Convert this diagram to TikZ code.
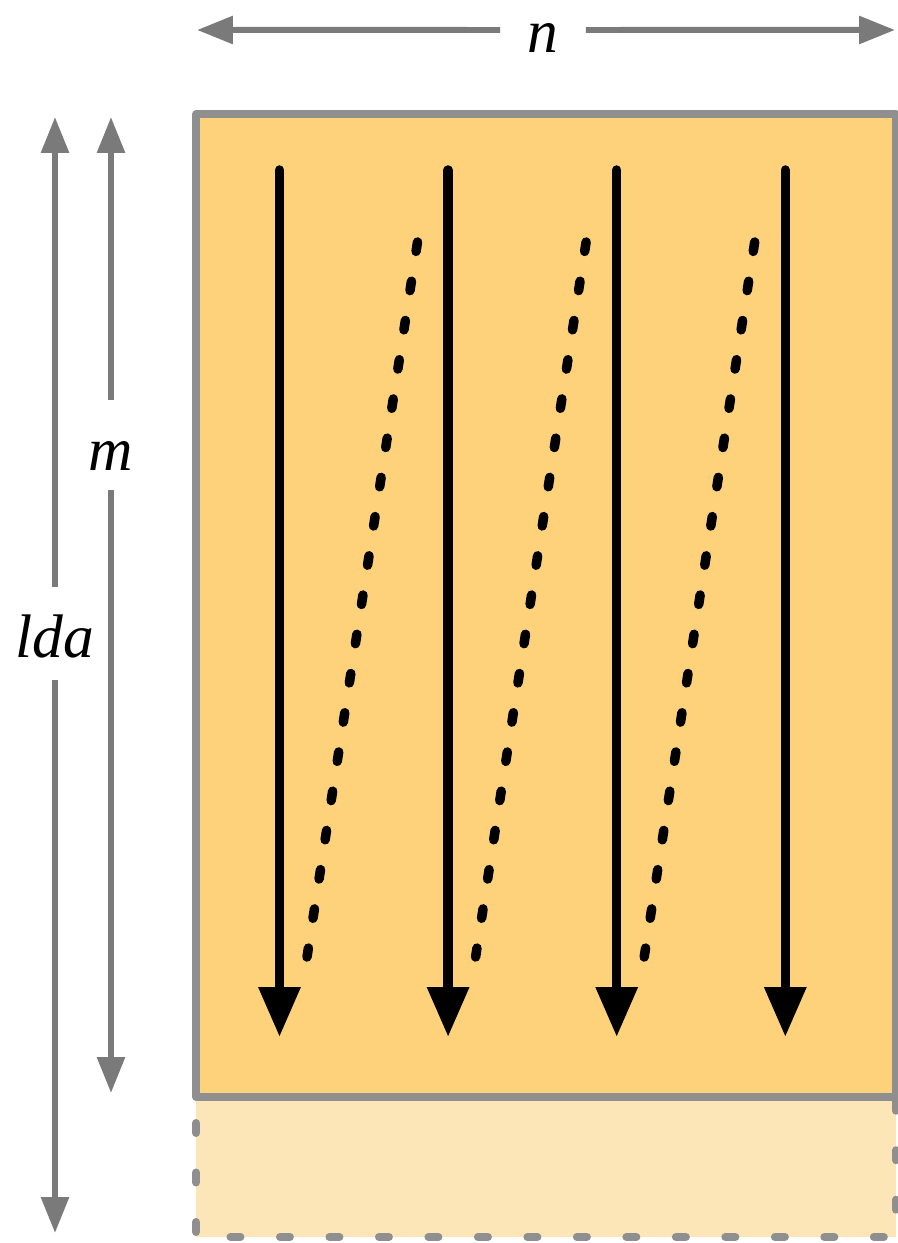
\documentclass[tikz,border=0pt]{standalone}
\usepackage{fontspec}
\setmainfont{Liberation Serif}
\usetikzlibrary{arrows.meta,positioning}
\definecolor{matfill}{HTML}{FDD27A}
\definecolor{padfill}{HTML}{FCE6B8}
\definecolor{edgegray}{HTML}{8F8F8F}
\definecolor{dimgray}{HTML}{7A7A7A}
\tikzset{
  dimarrow/.style={dimgray, -{Triangle[width=0.54cm, length=0.72cm]}, line width=0.12cm},
  dimlabel/.style={font=\fontsize{35}{40}\selectfont\itshape, inner sep=0pt, anchor=base},
  colarrow/.style={black, -{Triangle[width=0.8cm, length=1cm]}, line width=0.19cm, line cap=round},
  colreturn/.style={black, line width=0.19cm, line cap=round, dash pattern=on 0.19cm off 0.604cm},
  matbox/.style={draw=edgegray, fill=matfill, line width=0.16cm, line join=round},
  padline/.style={edgegray, line width=0.16cm, line cap=round, dash pattern=on 0.2cm off 0.79cm, dash phase=0.47cm}
}
\begin{document}
\begin{tikzpicture}[x=0.02cm, y=-0.02cm]
  \useasboundingbox (0,0) rectangle (897,1243);
  % padding rows below the matrix
  \fill[padfill] (196,1097) rectangle (896,1237);
  \draw[padline] (196,1097) -- (196,1237) -- (896,1237) -- (896,1097);
  % stored matrix
  \draw[matbox] (196,114.5) rectangle (896,1097);
  % column-major traversal
  \foreach \k in {0,...,3}
    \draw[colarrow] ({279.5+168.6*\k},170) -- ({279.5+168.6*\k},1037);
  \foreach \k in {0,1,2}
    \draw[colreturn] ({417.5+168.6*\k},242) -- ({307+168.6*\k},957);
  % dimensions
  \node[dimlabel, minimum width=1.7cm, text height=0.92cm, text depth=0cm] (nlab) at (543,53) {n};
  \coordinate (nleft) at (197,30);
  \coordinate (nright) at (895,30);
  \draw[dimarrow] (nlab) -- (nleft);
  \draw[dimarrow] (nlab) -- (nright);
  \node[dimlabel, text height=1.4cm, text depth=0.4cm] (mlab) at (111,470) {m};
  \coordinate (mtop) at (111,117);
  \coordinate (mbot) at (111,1093);
  \draw[dimarrow] (mlab) -- (mtop);
  \draw[dimarrow] (mlab) -- (mbot);
  \node[dimlabel, text height=1.4cm, text depth=0.46cm] (ldalab) at (55,657) {lda};
  \coordinate (ldatop) at (55,117);
  \coordinate (ldabot) at (55,1233);
  \draw[dimarrow] (ldalab) -- (ldatop);
  \draw[dimarrow] (ldalab) -- (ldabot);
\end{tikzpicture}
\end{document}
